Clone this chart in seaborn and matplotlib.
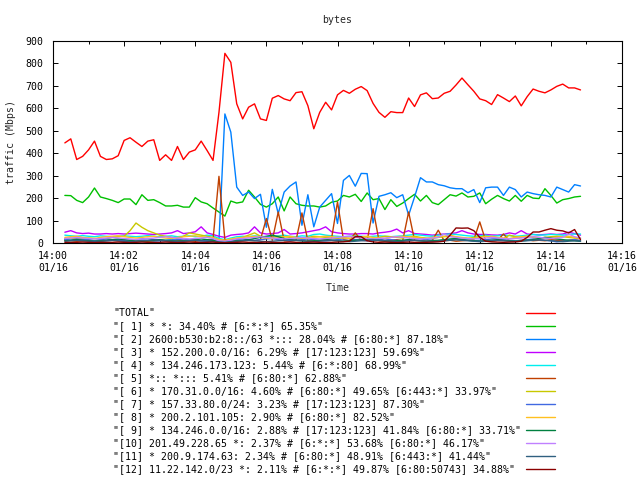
import matplotlib
matplotlib.use('Agg')
import matplotlib.pyplot as plt
import matplotlib.dates as mdates
from matplotlib.lines import Line2D
import seaborn as sns
import pandas as pd

# sampling: every 10 s from 14:00:20 on 01/16
times = pd.date_range('2020-01-16 14:00:20', periods=88, freq='10s')

labels = [
    '"TOTAL"',
    '"[ 1] * *: 34.40% # [6:*:*] 65.35%"',
    '"[ 2] 2600:b530:b2:8::/63 *::: 28.04% # [6:80:*] 87.18%"',
    '"[ 3] * 152.200.0.0/16: 6.29% # [17:123:123] 59.69%"',
    '"[ 4] * 134.246.173.123: 5.44% # [6:*:80] 68.99%"',
    '"[ 5] *:: *::: 5.41% # [6:80:*] 62.88%"',
    '"[ 6] * 170.31.0.0/16: 4.60% # [6:80:*] 49.65% [6:443:*] 33.97%"',
    '"[ 7] * 157.33.80.0/24: 3.23% # [17:123:123] 87.30%"',
    '"[ 8] * 200.2.101.105: 2.90% # [6:80:*] 82.52%"',
    '"[ 9] * 134.246.0.0/16: 2.88% # [17:123:123] 41.84% [6:80:*] 33.71%"',
    '"[10] 201.49.228.65 *: 2.37% # [6:*:*] 53.68% [6:80:*] 46.17%"',
    '"[11] * 200.9.174.63: 2.34% # [6:80:*] 48.91% [6:443:*] 41.44%"',
    '"[12] 11.22.142.0/23 *: 2.11% # [6:*:*] 49.87% [6:80:50743] 34.88%"',
]

colors = ['#ff0000', '#00c000', '#0080ff', '#c000ff', '#00eeee', '#c04000',
          '#c8c800', '#4169e1', '#ffc020', '#008040', '#c080ff', '#306080',
          '#8b0000']

total = [446, 464, 372, 386, 415, 454, 386, 372, 375, 389,
         457, 469, 449, 430, 454, 460, 368, 393, 368, 430,
         372, 405, 415, 454, 412, 368, 582, 845, 805, 620,
         553, 605, 620, 553, 546, 645, 657, 642, 634, 670,
         674, 612, 509, 582, 627, 593, 660, 680, 667, 685,
         697, 679, 622, 582, 560, 585, 581, 581, 646, 608,
         660, 669, 643, 646, 667, 676, 704, 735, 705, 676,
         642, 634, 617, 661, 646, 630, 655, 611, 652, 686,
         676, 669, 682, 698, 708, 691, 691, 682]

s1 = [212, 211, 190, 180, 205, 245, 205, 198, 190, 180,
      196, 196, 171, 215, 190, 193, 180, 165, 165, 168,
      160, 160, 202, 183, 175, 156, 138, 120, 187, 178,
      183, 235, 205, 172, 160, 175, 205, 143, 205, 175,
      168, 165, 165, 160, 165, 182, 187, 212, 205, 217,
      185, 223, 193, 198, 149, 193, 163, 178, 198, 217,
      187, 212, 180, 171, 193, 215, 209, 223, 205, 208,
      223, 175, 195, 212, 198, 187, 212, 186, 212, 200,
      198, 242, 212, 178, 193, 198, 205, 208]

s2 = [15, 12, 10, 12, 15, 10, 8, 10, 12, 15,
      12, 10, 15, 12, 10, 8, 10, 12, 15, 12,
      10, 12, 15, 10, 8, 10, 10, 575, 494, 249,
      212, 227, 198, 217, 70, 239, 131, 227, 254, 272,
      79, 215, 72, 160, 190, 220, 87, 279, 301, 253,
      310, 309, 89, 208, 215, 224, 202, 215, 124, 205,
      291, 272, 272, 260, 255, 246, 242, 242, 224, 238,
      180, 246, 249, 249, 212, 249, 238, 205, 227, 220,
      215, 212, 205, 249, 238, 227, 260, 254]

s3 = [48, 55, 45, 42, 44, 40, 40, 42, 40, 42,
      40, 42, 44, 42, 40, 38, 40, 42, 45, 55,
      42, 45, 50, 72, 45, 38, 30, 25, 35, 38,
      40, 45, 72, 45, 40, 42, 45, 60, 40, 42,
      45, 50, 55, 60, 72, 50, 45, 42, 40, 40,
      42, 42, 40, 45, 48, 52, 62, 45, 55, 42,
      40, 38, 35, 38, 40, 42, 45, 55, 45, 40,
      38, 38, 36, 35, 38, 45, 40, 55, 40, 38,
      36, 38, 40, 38, 40, 48, 42, 35]

s4 = [35, 32, 30, 33, 30, 28, 32, 30, 28, 30,
      32, 30, 28, 30, 33, 30, 28, 30, 32, 28,
      30, 32, 28, 30, 35, 32, 20, 15, 22, 28,
      30, 28, 32, 30, 28, 30, 32, 35, 30, 28,
      32, 30, 38, 40, 35, 32, 30, 28, 30, 32,
      30, 28, 30, 32, 30, 28, 30, 32, 35, 38,
      35, 32, 30, 35, 38, 40, 38, 35, 32, 30,
      32, 35, 30, 32, 35, 33, 30, 32, 35, 38,
      35, 36, 38, 37, 35, 38, 40, 40]

s5 = [12, 10, 8, 10, 12, 10, 8, 10, 12, 10,
      8, 10, 12, 10, 8, 10, 12, 10, 8, 10,
      12, 10, 8, 10, 12, 15, 297, 15, 10, 8,
      10, 12, 10, 15, 109, 12, 138, 10, 8, 12,
      134, 10, 8, 12, 15, 20, 183, 15, 10, 45,
      12, 10, 153, 10, 8, 12, 15, 10, 138, 12,
      10, 8, 12, 57, 10, 12, 8, 10, 12, 15,
      94, 10, 8, 12, 40, 10, 8, 12, 15, 10,
      12, 10, 15, 12, 10, 12, 15, 10]

s6 = [20, 22, 18, 20, 22, 20, 18, 20, 25, 28,
      30, 55, 89, 70, 55, 45, 35, 30, 25, 20,
      30, 45, 40, 35, 30, 25, 15, 10, 15, 20,
      25, 35, 45, 30, 20, 25, 30, 28, 25, 22,
      20, 25, 30, 28, 25, 22, 20, 25, 28, 30,
      25, 22, 20, 25, 30, 28, 25, 22, 28, 30,
      25, 22, 20, 25, 28, 30, 25, 22, 20, 25,
      28, 30, 25, 22, 20, 35, 28, 25, 30, 25,
      22, 25, 28, 30, 28, 25, 22, 20]

s7 = [15, 12, 18, 15, 12, 10, 15, 18, 15, 12,
      10, 12, 15, 18, 20, 15, 12, 10, 12, 15,
      18, 15, 12, 10, 12, 15, 5, 8, 12, 15,
      18, 15, 12, 15, 18, 20, 15, 12, 10, 12,
      15, 18, 15, 12, 10, 12, 15, 18, 20, 15,
      12, 10, 12, 15, 18, 15, 12, 10, 15, 20,
      18, 15, 12, 10, 12, 15, 18, 15, 12, 10,
      12, 15, 18, 20, 15, 12, 10, 12, 15, 18,
      15, 12, 10, 5, 8, 12, 15, 10]

s8 = [25, 28, 30, 25, 22, 20, 25, 28, 30, 32,
      28, 25, 22, 25, 28, 30, 25, 22, 20, 25,
      28, 30, 32, 28, 25, 22, 15, 12, 18, 22,
      25, 28, 30, 25, 22, 20, 25, 28, 30, 25,
      22, 20, 25, 28, 30, 28, 25, 22, 20, 25,
      28, 30, 25, 22, 20, 25, 28, 30, 28, 25,
      22, 20, 25, 28, 30, 35, 28, 25, 22, 20,
      25, 28, 30, 25, 22, 20, 25, 28, 30, 28,
      25, 22, 20, 25, 28, 30, 25, 22]

s9 = [10, 12, 15, 12, 10, 8, 10, 12, 15, 18,
      15, 12, 10, 8, 10, 12, 15, 12, 10, 8,
      10, 12, 15, 18, 15, 12, 5, 3, 8, 10,
      12, 15, 20, 25, 30, 35, 28, 20, 15, 12,
      10, 8, 10, 12, 15, 12, 10, 8, 10, 12,
      15, 18, 15, 12, 10, 8, 10, 12, 15, 12,
      10, 8, 10, 12, 15, 18, 20, 15, 12, 10,
      8, 10, 12, 15, 12, 10, 8, 10, 12, 15,
      20, 25, 22, 18, 15, 12, 10, 8]

s10 = [20, 22, 25, 22, 20, 18, 20, 22, 25, 22,
       20, 18, 15, 18, 20, 22, 25, 28, 25, 22,
       20, 18, 20, 22, 25, 20, 10, 8, 12, 18,
       20, 22, 25, 28, 25, 22, 20, 18, 20, 22,
       25, 22, 20, 18, 20, 22, 25, 28, 30, 25,
       22, 20, 18, 20, 22, 25, 28, 25, 22, 20,
       18, 20, 22, 25, 40, 28, 25, 22, 20, 18,
       20, 22, 25, 22, 20, 18, 20, 22, 25, 28,
       25, 22, 20, 22, 25, 40, 28, 22]

s11 = [8, 10, 12, 10, 8, 6, 8, 10, 12, 10,
       8, 6, 8, 10, 12, 14, 12, 10, 8, 6,
       8, 10, 12, 10, 8, 6, 4, 3, 5, 8,
       10, 12, 10, 8, 6, 8, 10, 12, 14, 12,
       10, 8, 6, 8, 10, 12, 10, 8, 6, 8,
       10, 12, 14, 12, 10, 8, 6, 8, 10, 12,
       10, 8, 6, 8, 10, 12, 14, 12, 10, 8,
       6, 8, 10, 12, 10, 8, 6, 8, 10, 12,
       14, 12, 10, 8, 6, 8, 10, 8]

s12 = [3, 2, 3, 4, 3, 2, 3, 2, 3, 4,
       3, 2, 3, 4, 3, 2, 3, 4, 3, 2,
       3, 4, 3, 2, 3, 4, 2, 1, 2, 3,
       4, 3, 2, 3, 4, 3, 2, 3, 4, 3,
       2, 3, 4, 3, 2, 3, 4, 5, 8, 28,
       28, 10, 5, 3, 4, 3, 2, 3, 4, 3,
       2, 3, 4, 5, 8, 35, 67, 66, 67, 55,
       25, 8, 5, 4, 3, 4, 5, 8, 25, 49,
       49, 57, 64, 57, 54, 45, 60, 15]

series = [total, s1, s2, s3, s4, s5, s6, s7, s8, s9, s10, s11, s12]

frames = []
for lab, vals in zip(labels, series):
    frames.append(pd.DataFrame({'time': times, 'traffic': vals, 'series': lab}))
df = pd.concat(frames, ignore_index=True)

sns.set_theme(style='white')
mono = ['DejaVu Sans Mono', 'Liberation Mono']
plt.rcParams['font.family'] = mono
fs = 7.1

fig = plt.figure(figsize=(6.4, 4.8), dpi=100)
ax = fig.add_axes([53 / 640, 237 / 480, 569 / 640, 202 / 480])

sns.lineplot(data=df, x='time', y='traffic', hue='series', hue_order=labels,
             palette=dict(zip(labels, colors)), estimator=None, errorbar=None,
             linewidth=1.0, legend=False, ax=ax)

ax.set_xlim(pd.Timestamp('2020-01-16 14:00'), pd.Timestamp('2020-01-16 14:16'))
ax.set_ylim(0, 900)
ax.set_yticks(range(0, 901, 100))
ax.xaxis.set_major_locator(mdates.MinuteLocator(byminute=range(0, 60, 2)))
ax.xaxis.set_minor_locator(mdates.MinuteLocator())
ax.xaxis.set_major_formatter(mdates.DateFormatter('%H:%M\n%m/%d'))

for s in ax.spines.values():
    s.set_color('black')
    s.set_linewidth(0.8)
ax.tick_params(which='both', direction='in', top=True, right=True,
               bottom=True, left=True, colors='black', labelsize=fs, width=0.7)
ax.tick_params(which='major', length=3.6)
ax.tick_params(which='minor', length=2.0)
ax.tick_params(axis='x', which='major', pad=6)
ax.tick_params(axis='y', which='major', pad=7)

ax.set_title('bytes', fontsize=fs, pad=13)
ax.set_xlabel('Time', fontsize=fs, labelpad=7)
ax.set_ylabel('traffic (Mbps)', fontsize=fs, labelpad=7)

# key below the plot, gnuplot style: text on the left, sample on the right
row0, step = 313.3, 13.0
for i, (lab, col) in enumerate(zip(labels, colors)):
    yy = 1 - (row0 + i * step) / 480
    fig.text(113 / 640, yy, lab, ha='left', va='center', fontsize=fs,
             family=mono, color='black')
    fig.add_artist(Line2D([526 / 640, 555 / 640], [yy, yy], color=col,
                          linewidth=1.0, transform=fig.transFigure))

fig.savefig('out.png', dpi=100)
